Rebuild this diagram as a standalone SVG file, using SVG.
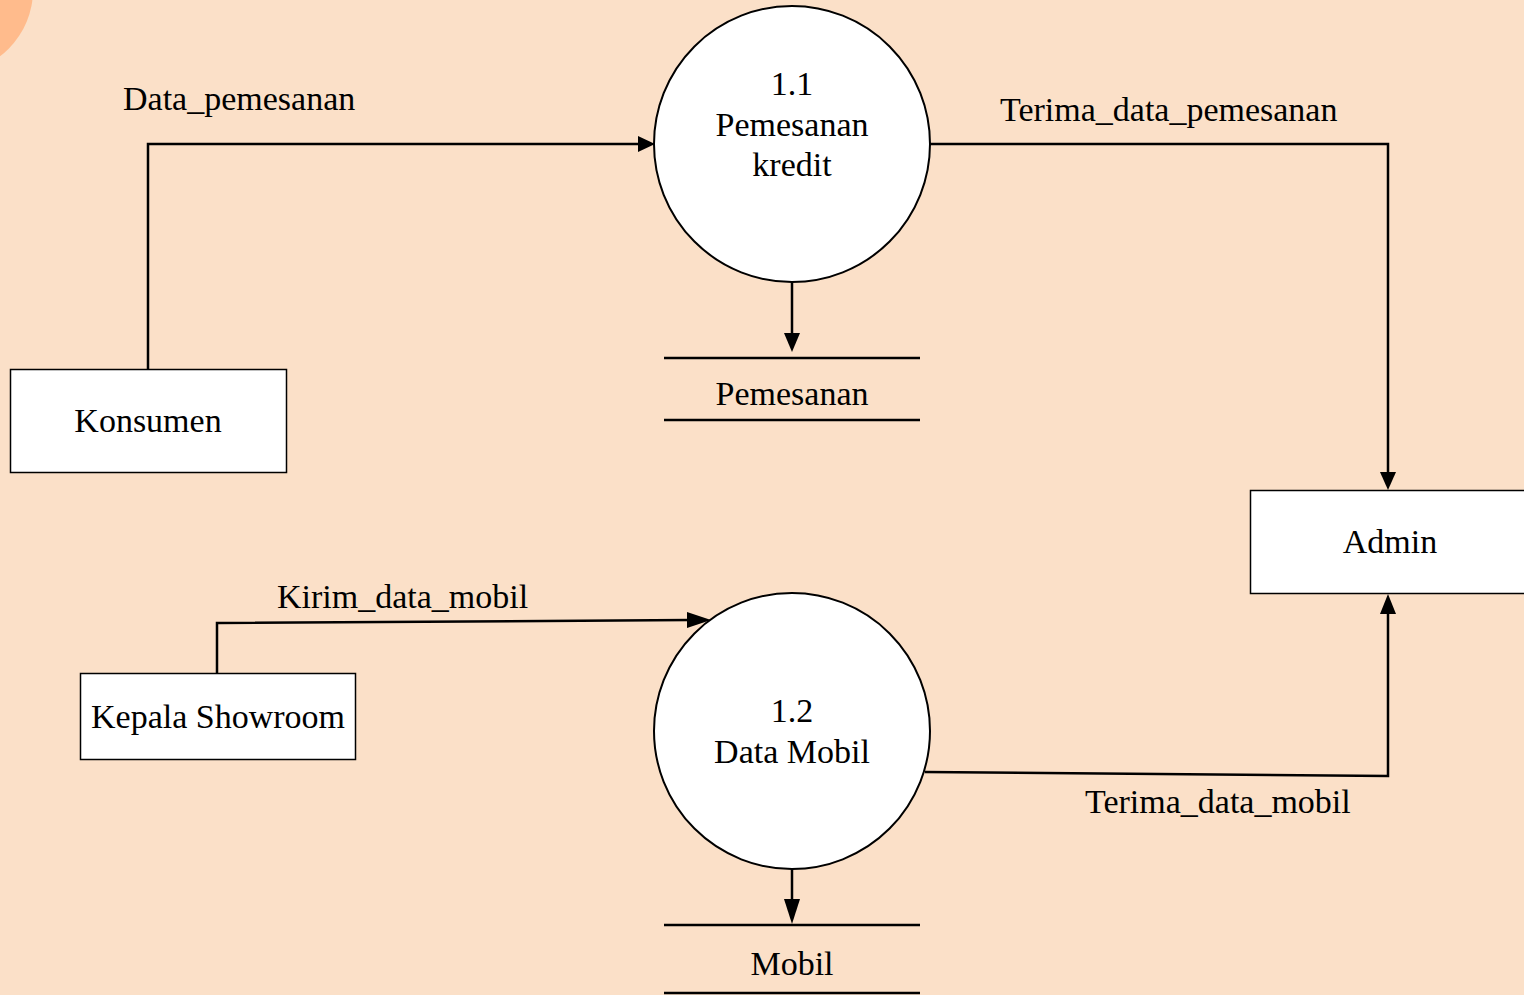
<svg xmlns="http://www.w3.org/2000/svg" width="1524" height="995" viewBox="0 0 1524 995">
<style>
.bg{fill:#FBE0C8}
.proc{fill:#ffffff;stroke:#000;stroke-width:2}
.ent{fill:#ffffff;stroke:#000;stroke-width:1.5}
.store{stroke:#000;stroke-width:2.5}
.flow{fill:none;stroke:#000;stroke-width:2.5}
.head{fill:#000}
text{font-family:"Liberation Serif","Times New Roman",serif;font-size:34px;fill:#000}
.c{text-anchor:middle}
</style>
<rect class="bg" x="0" y="0" width="1524" height="995"/>
<circle cx="-50" cy="-10" r="83" fill="#FFBB8C"/>

<g id="connectors">
<polyline class="flow" points="148,369 148,144 638,144"/>
<path class="head" d="M638,136 L655,144 L638,152 z"/>
<polyline class="flow" points="930,144 1388,144 1388,472"/>
<path class="head" d="M1380,472 L1388,490 L1396,472 z"/>
<line class="flow" x1="792" y1="282" x2="792" y2="340"/>
<path class="head" d="M784,333 L792,352 L800,333 z"/>
<polyline class="flow" points="217,673 217,623 690,620"/>
<path class="head" d="M687,612 L711,620 L687,628 z"/>
<polyline class="flow" points="925,772 1388,776 1388,612"/>
<path class="head" d="M1380,614 L1388,594 L1396,614 z"/>
<line class="flow" x1="792" y1="869" x2="792" y2="905"/>
<path class="head" d="M784,899 L792,924 L800,899 z"/>
</g>

<g id="p11">
<circle class="proc" cx="792" cy="144" r="138"/>
<text class="c" x="792" y="95">1.1</text>
<text class="c" x="792" y="136">Pemesanan</text>
<text class="c" x="792" y="176">kredit</text>
</g>
<g id="p12">
<circle class="proc" cx="792" cy="731" r="138"/>
<text class="c" x="792" y="722">1.2</text>
<text class="c" x="792" y="763">Data Mobil</text>
</g>
<g id="konsumen">
<rect class="ent" x="10.5" y="369.5" width="276" height="103"/>
<text class="c" x="148" y="432">Konsumen</text>
</g>
<g id="admin">
<rect class="ent" x="1250.5" y="490.5" width="290" height="103"/>
<text class="c" x="1390" y="553">Admin</text>
</g>
<g id="kepala">
<rect class="ent" x="80.5" y="673.5" width="275" height="86"/>
<text class="c" x="218" y="728">Kepala Showroom</text>
</g>
<g id="ds-pemesanan">
<line class="store" x1="664" y1="358" x2="920" y2="358"/>
<line class="store" x1="664" y1="420" x2="920" y2="420"/>
<text class="c" x="792" y="405">Pemesanan</text>
</g>
<g id="ds-mobil">
<line class="store" x1="664" y1="925" x2="920" y2="925"/>
<line class="store" x1="664" y1="993" x2="920" y2="993"/>
<text class="c" x="792" y="975">Mobil</text>
</g>
<g id="labels">
<text x="123" y="110">Data_pemesanan</text>
<text x="1000" y="121">Terima_data_pemesanan</text>
<text x="277" y="608">Kirim_data_mobil</text>
<text x="1085" y="813">Terima_data_mobil</text>
</g>
</svg>
